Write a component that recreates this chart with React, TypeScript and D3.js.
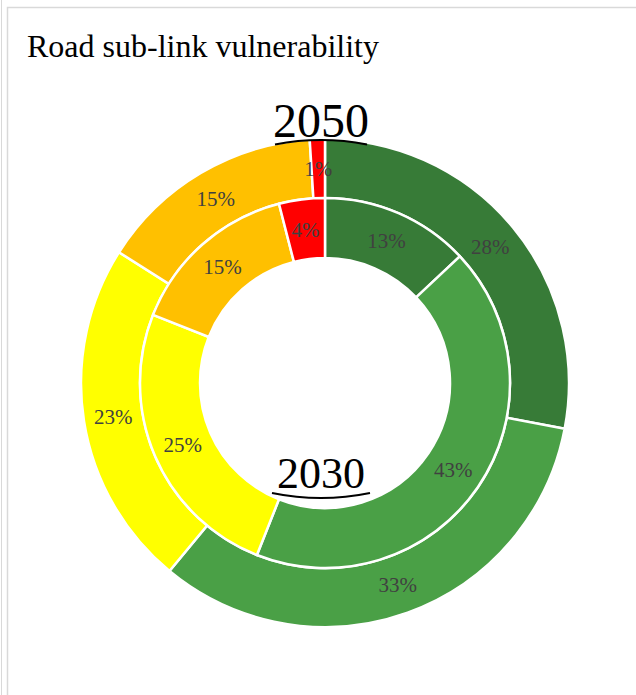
import React, { useEffect, useRef } from 'react';
import * as d3 from 'd3';

// vulnerability classes, from the top going clockwise
const classes = ['Very low', 'Low', 'Medium', 'High', 'Very high'];
const classColors = ['#377B37', '#4AA046', '#FFFF00', '#FFC000', '#FF0000'];

// share of road sub-links (%) per class
const values2050 = [28, 33, 23, 15, 1];
const values2030 = [13, 43, 25, 15, 4];

const title = 'Road sub-link vulnerability';
const outerYear = '2050';
const innerYear = '2030';

const W = 636;
const H = 695;

export default function App() {
  const svgRef = useRef<SVGSVGElement | null>(null);

  useEffect(() => {
    const svg = d3.select(svgRef.current);
    svg.selectAll('*').remove();

    const font = '"Liberation Serif", "Times New Roman", serif';
    const cx = 325;
    const cy = 383;
    const rOuter = 244;
    const rMid = 185;
    const rHole = 125;

    // frame
    svg.append('line')
      .attr('x1', 1.5).attr('x2', 1.5).attr('y1', 0).attr('y2', H)
      .attr('stroke', '#d9d9d9').attr('stroke-width', 1);
    svg.append('path')
      .attr('d', `M7.5,${H} V7.5 H${W}`)
      .attr('fill', 'none')
      .attr('stroke', '#d9d9d9').attr('stroke-width', 1.5);

    svg.append('text')
      .attr('x', 27)
      .attr('y', 57)
      .style('font-family', font)
      .style('font-size', '32px')
      .style('fill', '#000')
      .text(title);

    const g = svg.append('g').attr('transform', `translate(${cx},${cy})`);

    const pie = d3.pie<number>().sort(null).value(d => d);

    const rings = [
      { values: values2050, inner: rMid, outer: rOuter },
      { values: values2030, inner: rHole, outer: rMid },
    ];

    rings.forEach(ring => {
      const arc = d3.arc<d3.PieArcDatum<number>>()
        .innerRadius(ring.inner)
        .outerRadius(ring.outer);
      const arcs = pie(ring.values);

      g.append('g')
        .selectAll('path')
        .data(arcs)
        .enter()
        .append('path')
        .attr('d', arc)
        .attr('fill', (d, i) => classColors[i])
        .attr('stroke', '#fff')
        .attr('stroke-width', 2.5)
        .append('title')
        .text((d, i) => `${classes[i]}: ${d.data}%`);

      g.append('g')
        .selectAll('text')
        .data(arcs)
        .enter()
        .append('text')
        .attr('transform', d => `translate(${arc.centroid(d)})`)
        .attr('text-anchor', 'middle')
        .attr('dy', '0.35em')
        .style('font-family', font)
        .style('font-size', '21px')
        .style('fill', '#404040')
        .text(d => `${d.data}%`);
    });

    // year labels with curved underlines
    const underline = (ox: number, oy: number, r: number, a0: number, a1: number) => {
      const p = d3.path();
      p.arc(ox, oy, r, a0, a1);
      return p.toString();
    };

    const half = Math.asin(46 / 243);
    svg.append('path')
      .attr('d', underline(cx - 4, cy, 243, -Math.PI / 2 - half, -Math.PI / 2 + half))
      .attr('fill', 'none')
      .attr('stroke', '#000')
      .attr('stroke-width', 2);
    svg.append('text')
      .attr('x', cx - 4)
      .attr('y', 137)
      .attr('text-anchor', 'middle')
      .style('font-family', font)
      .style('font-size', '48px')
      .style('fill', '#000')
      .text(outerYear);

    const half2 = Math.asin(49 / 243);
    svg.append('path')
      .attr('d', underline(cx - 4, 255, 243, Math.PI / 2 - half2, Math.PI / 2 + half2))
      .attr('fill', 'none')
      .attr('stroke', '#000')
      .attr('stroke-width', 2);
    svg.append('text')
      .attr('x', cx - 4)
      .attr('y', 488)
      .attr('text-anchor', 'middle')
      .style('font-family', font)
      .style('font-size', '44px')
      .style('fill', '#000')
      .text(innerYear);
  }, []);

  return (
    <svg
      ref={svgRef}
      width={W}
      height={H}
      style={{ position: 'absolute', left: 0, top: 0, display: 'block', background: '#fff' }}
    />
  );
}
